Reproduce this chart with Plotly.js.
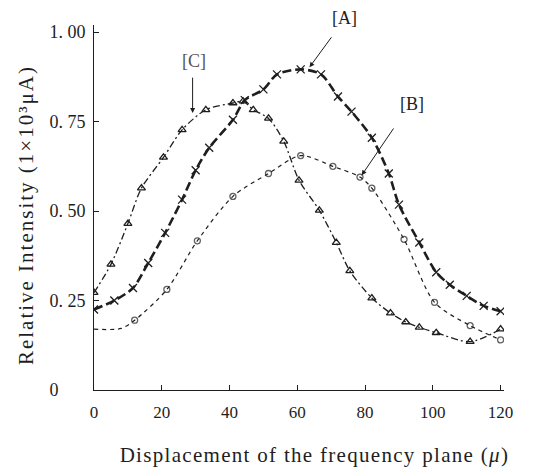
<!DOCTYPE html>
<html>
<head>
<meta charset="utf-8">
<script src="https://cdn.plot.ly/plotly-3.0.1.min.js"></script>
<style>html,body{margin:0;padding:0;background:#fff;}#chart{width:533px;height:467px;}</style>
</head>
<body>
<div id="chart"></div>
<script>
// Curve A (x markers, thick dashed)
const xA = [0, 6, 11.5, 16, 21, 26, 30, 34, 41, 44.5, 50, 54, 61, 67, 72, 76, 82, 87, 90, 96, 101, 105, 110, 115, 120];
const yA = [0.225, 0.25, 0.285, 0.355, 0.439, 0.532, 0.614, 0.677, 0.755, 0.81, 0.84, 0.882, 0.896, 0.882, 0.82, 0.778, 0.705, 0.605, 0.518, 0.412, 0.329, 0.294, 0.263, 0.235, 0.22];
// Curve B (open circles, short dashes)
const xB = [0, 8, 12, 21.5, 30.5, 41, 51.5, 61, 70.5, 78.5, 82, 91.5, 100.5, 111, 120];
const yB = [0.17, 0.172, 0.195, 0.281, 0.417, 0.541, 0.605, 0.655, 0.625, 0.595, 0.564, 0.421, 0.245, 0.18, 0.14];
// Curve C (open triangles, dash-dot)
const xC = [0, 5, 10, 14, 20.5, 26, 33, 41, 44, 47, 51.5, 56, 60.5, 66.5, 71.5, 75.5, 82, 87.5, 92, 96, 101, 111, 120];
const yC = [0.272, 0.351, 0.465, 0.564, 0.65, 0.727, 0.783, 0.802, 0.807, 0.783, 0.759, 0.695, 0.586, 0.502, 0.412, 0.333, 0.257, 0.215, 0.19, 0.175, 0.16, 0.135, 0.17];

const xTicks = [0, 20, 40, 60, 80, 100, 120];
const yTicks = [0, 0.25, 0.5, 0.75, 1.0];
const yTickText = ['0&nbsp;&nbsp;&nbsp;&nbsp;&nbsp;&nbsp;', '0. 25', '0. 50', '0. 75', '1. 00'];

const ink = '#1e1e1e';
const serif = 'Liberation Serif, DejaVu Serif, serif';

const sizesB = xB.map((v, i) => i < 2 ? 0 : 6);

const traces = [
  {x: xA, y: yA, mode: 'lines+markers', name: 'A', line: {color: ink, width: 2.6, dash: '9px,4px', shape: 'spline', smoothing: 0.8},
   marker: {symbol: 'x-thin-open', size: 8, line: {color: ink, width: 1.3}}},
  {x: xB, y: yB, mode: 'lines+markers', name: 'B', line: {color: ink, width: 1.2, dash: '4px,4px', shape: 'spline', smoothing: 0.8},
   marker: {symbol: 'circle-open', size: sizesB, color: ink, line: {color: ink, width: 1.3}}},
  {x: xC, y: yC, mode: 'lines+markers', name: 'C', line: {color: ink, width: 1.3, dash: '7px,3px,2px,3px', shape: 'spline', smoothing: 0.8},
   marker: {symbol: 'triangle-up-open', size: 7, color: ink, line: {color: ink, width: 1.3}}}
];

const arrowStyle = {showarrow: true, arrowhead: 2, arrowsize: 1, arrowwidth: 1, arrowcolor: ink, text: '', axref: 'x', ayref: 'y', xref: 'x', yref: 'y'};

const layout = {
  width: 533, height: 467,
  margin: {l: 94, r: 29, t: 25, b: 77},
  paper_bgcolor: '#ffffff', plot_bgcolor: '#ffffff',
  showlegend: false,
  font: {family: serif, color: ink, size: 17},
  xaxis: {range: [0, 121], tickvals: xTicks, ticktext: xTicks.map(String), showgrid: false, zeroline: false,
          showline: true, linecolor: ink, linewidth: 1, ticks: 'inside', ticklen: 5, tickcolor: ink,
          ticklabelstandoff: 7, tickfont: {family: serif, size: 17, color: ink}},
  yaxis: {range: [0, 1.02], tickvals: yTicks, ticktext: yTickText, showgrid: false, zeroline: false,
          showline: true, linecolor: ink, linewidth: 1, ticks: 'inside', ticklen: 5, tickcolor: ink,
          ticklabelstandoff: 4, tickfont: {family: serif, size: 18, color: ink}},
  annotations: [
    Object.assign({}, arrowStyle, {x: 63.6, y: 0.902, ax: 70.4, ay: 0.99}),
    Object.assign({}, arrowStyle, {x: 29.1, y: 0.774, ax: 29.1, ay: 0.877}),
    Object.assign({}, arrowStyle, {x: 79, y: 0.60, ax: 88.7, ay: 0.735}),
    {x: 74, y: 1.02, xref: 'x', yref: 'paper', xanchor: 'center', yanchor: 'middle', text: '[A]', showarrow: false, font: {family: serif, size: 18, color: ink}},
    {x: 29.5, y: 0.92, xref: 'x', yref: 'y', xanchor: 'center', yanchor: 'middle', text: '[C]', showarrow: false, font: {family: serif, size: 18, color: '#555'}},
    {x: 93.7, y: 0.80, xref: 'x', yref: 'y', xanchor: 'center', yanchor: 'middle', text: '[B]', showarrow: false, font: {family: serif, size: 18, color: ink}},
    {x: -0.166, y: 0.479, xref: 'paper', yref: 'paper', xanchor: 'center', yanchor: 'middle', text: 'Relative Intensity (1×10³μA)', textangle: -90,
     showarrow: false, font: {family: serif, size: 21, color: ink}},
    {x: 0.537, y: -0.178, xref: 'paper', yref: 'paper', xanchor: 'center', yanchor: 'middle', text: 'Displacement of the frequency plane (<i>μ</i>)',
     showarrow: false, font: {family: serif, size: 21, color: ink}}
  ]
};

Plotly.newPlot('chart', traces, layout, {displayModeBar: false, staticPlot: true}).then(function () {
  document.querySelectorAll('.annotation-text').forEach(function (t) {
    const s = t.textContent || '';
    if (s.indexOf('Displacement') === 0) t.style.letterSpacing = '1.3px';
    if (s.indexOf('Relative') === 0) t.style.letterSpacing = '2px';
  });
});
</script>
</body>
</html>
